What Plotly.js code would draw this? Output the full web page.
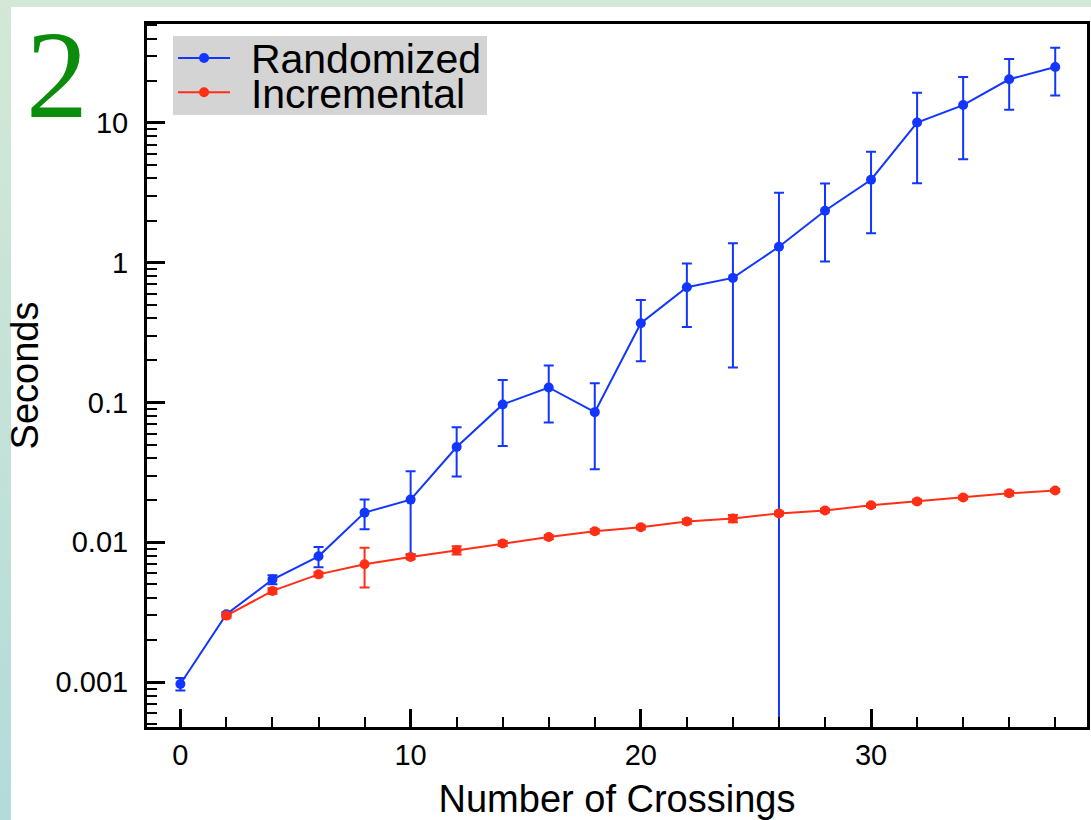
<!DOCTYPE html>
<html>
<head>
<meta charset="utf-8">
<script src="https://cdn.plot.ly/plotly-3.0.1.min.js"></script>
<style>
  html, body { margin: 0; padding: 0; width: 1091px; height: 820px; overflow: hidden; }
  body { background: linear-gradient(to bottom, #d3e8d6 0%, #c4e2d8 50%, #b2dbd9 100%); position: relative; }
  #card { position: absolute; left: 11px; top: 7px; width: 1080px; height: 813px; background: #ffffff; }
  #chart { position: absolute; left: 0; top: 0; width: 1091px; height: 820px; }
</style>
</head>
<body>
<div id="card"></div>
<div id="chart"></div>
<script>
// ---- data ----
const crossingsRandomized = [0, 2, 4, 6, 8, 10, 12, 14, 16, 18, 20, 22, 24, 26, 28, 30, 32, 34, 36, 38];
const secondsRandomized   = [0.00097, 0.00306, 0.00542, 0.00794, 0.0163, 0.0202, 0.048, 0.0968, 0.128, 0.0853, 0.369, 0.667, 0.778, 1.30, 2.35, 3.92, 10.05, 13.4, 20.5, 25.1];
const errorRandomized     = [0.0001, 0.0001, 0.0004, 0.0013, 0.0039, 0.012, 0.0185, 0.048, 0.056, 0.052, 0.172, 0.32, 0.60, 1.86, 1.33, 2.3, 6.35, 7.9, 8.1, 9.4];

const crossingsIncremental = [2, 4, 6, 8, 10, 12, 14, 16, 18, 20, 22, 24, 26, 28, 30, 32, 34, 36, 38];
const secondsIncremental   = [0.00299, 0.00449, 0.0059, 0.00696, 0.00786, 0.00877, 0.0098, 0.0109, 0.012, 0.0128, 0.0141, 0.0148, 0.0161, 0.0169, 0.0184, 0.0196, 0.0209, 0.0224, 0.0235];
const errorIncremental     = [0.0001, 0.0002, 0.0002, 0.0022, 0.0003, 0.0006, 0.0004, 0.0004, 0.0004, 0.0004, 0.0005, 0.0009, 0.0005, 0.0005, 0.0005, 0.0006, 0.0006, 0.0008, 0.0006];

const yTickVals  = [0.001, 0.01, 0.1, 1, 10];
const yTickText  = ['0.001', '0.01', '0.1', '1', '10'];
const xTickVals  = [0, 10, 20, 30];
const xTickText  = ['0', '10', '20', '30'];
const seriesNames = ['Randomized', 'Incremental'];

// minor log ticks: 2..9 x each decade
const yMinorVals = [];
[0.0001, 0.001, 0.01, 0.1, 1, 10].forEach(d => { for (let k = 2; k <= 9; k++) yMinorVals.push(d * k); });

const blue = '#1236ff';
const red  = '#ff2e14';
const font = 'Liberation Sans, Arial, Helvetica, sans-serif';

function legendLabel(s) {
  return '<span style="font-size:57px">\u00a0</span><span style="font-size:41px;baseline-shift:-6px">' + s + '</span>';
}

const traces = [
  {
    x: crossingsRandomized, y: secondsRandomized, type: 'scatter', mode: 'lines+markers',
    name: legendLabel(seriesNames[0]),
    line: { color: blue, width: 2 },
    marker: { color: blue, size: 10 },
    error_y: { type: 'data', array: errorRandomized, visible: true, color: blue, thickness: 2, width: 5 }
  },
  {
    x: crossingsIncremental, y: secondsIncremental, type: 'scatter', mode: 'lines+markers',
    name: legendLabel(seriesNames[1]),
    line: { color: red, width: 2 },
    marker: { color: red, size: 10 },
    error_y: { type: 'data', array: errorIncremental, visible: true, color: red, thickness: 2, width: 5 }
  }
];

const layout = {
  width: 1091, height: 820,
  margin: { l: 147, r: 4, t: 24, b: 93, pad: 0 },
  paper_bgcolor: 'rgba(0,0,0,0)', plot_bgcolor: '#ffffff',
  font: { family: font, color: '#000000', size: 29 },
  showlegend: true,
  legend: {
    x: 0.0277, xanchor: 'left', y: 0.983, yanchor: 'top',
    bgcolor: '#d4d4d4', borderwidth: 0,
    font: { family: font, size: 24, color: '#000000' },
    itemwidth: 52, tracegroupgap: 0
  },
  xaxis: {
    type: 'linear', range: [-1.45, 39.38],
    tickmode: 'array', tickvals: xTickVals, ticktext: xTickText,
    ticks: 'inside', ticklen: 18, tickwidth: 3, tickcolor: '#000',
    minor: { dtick: 2, tick0: 0, ticks: 'inside', ticklen: 10, tickwidth: 2, tickcolor: '#000', showgrid: false },
    showline: true, linewidth: 3, linecolor: '#000', mirror: true,
    showgrid: false, zeroline: false,
    tickfont: { family: font, size: 29 },
    ticklabelstandoff: 0,
    title: { text: 'Number of Crossings', font: { family: font, size: 38 }, standoff: 17 },
    automargin: false
  },
  yaxis: {
    type: 'log', range: [-3.321, 1.707],
    tickmode: 'array', tickvals: yTickVals, ticktext: yTickText,
    ticks: 'inside', ticklen: 18, tickwidth: 3, tickcolor: '#000',
    minor: { tickmode: 'array', tickvals: yMinorVals, ticks: 'inside', ticklen: 10, tickwidth: 2, tickcolor: '#000', showgrid: false },
    showline: true, linewidth: 3, linecolor: '#000', mirror: true,
    showgrid: false, zeroline: false,
    tickfont: { family: font, size: 29 },
    ticklabelstandoff: 10,
    title: { text: 'Seconds', font: { family: font, size: 38 }, standoff: 6 },
    automargin: false
  },
  annotations: [
    {
      text: '2', xref: 'paper', yref: 'paper', x: -0.0957, y: 0.9264,
      xanchor: 'center', yanchor: 'middle', showarrow: false,
      font: { family: 'Liberation Serif, Times New Roman, serif', size: 124, color: '#0b8c0b' }
    }
  ]
};

Plotly.newPlot('chart', traces, layout, { displayModeBar: false, staticPlot: true });
</script>
</body>
</html>
